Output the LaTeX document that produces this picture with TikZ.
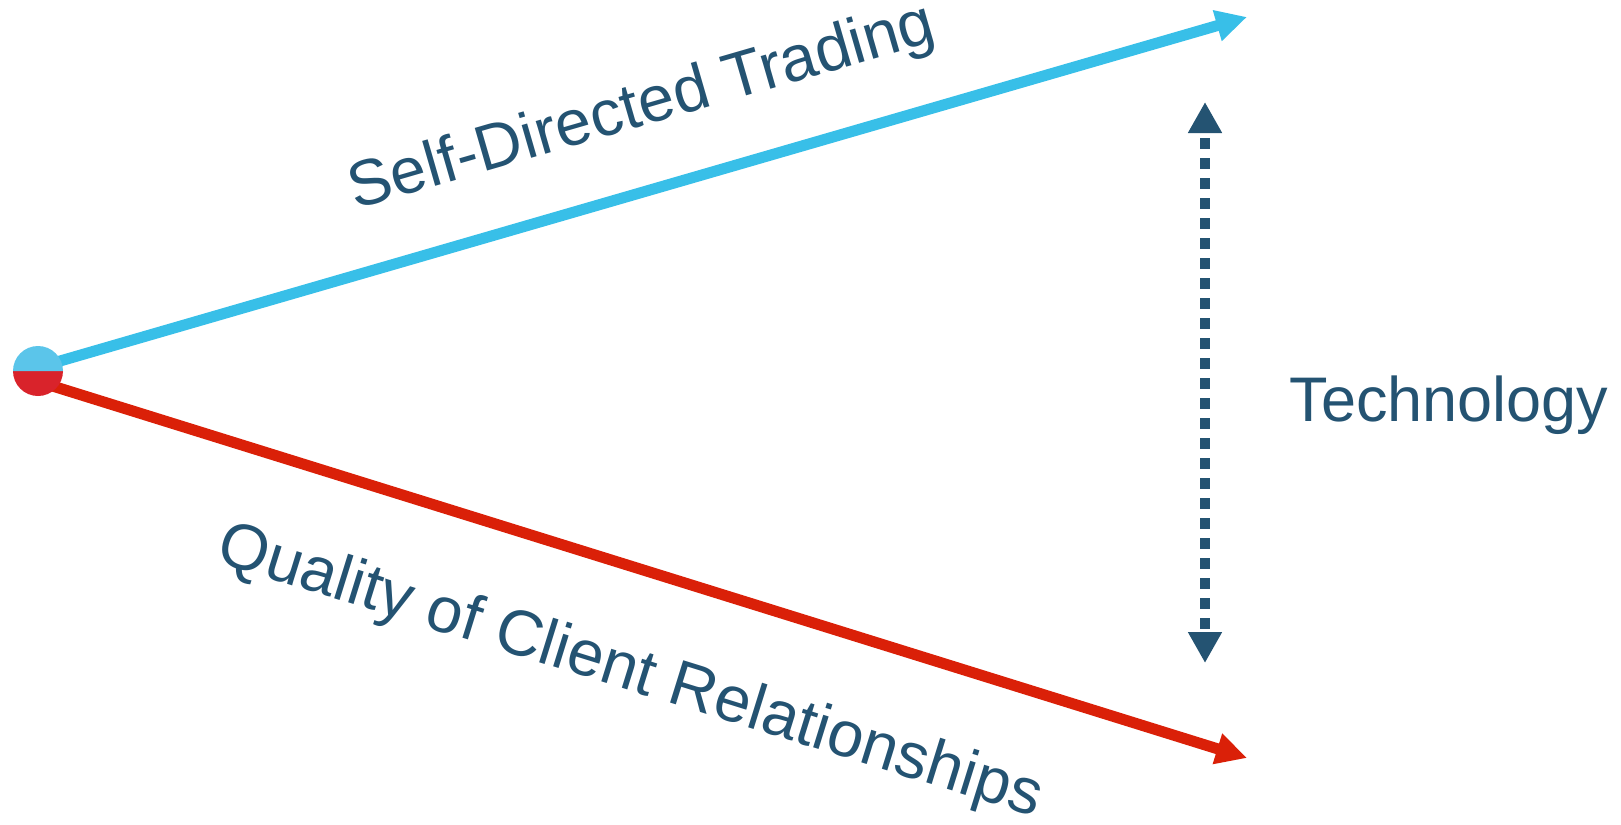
\documentclass[tikz,border=0pt]{standalone}
\usepackage{fontspec}
\setmainfont{Liberation Sans}
\usetikzlibrary{arrows.meta,calc}
\definecolor{skyline}{HTML}{38BFE8}
\definecolor{skydot}{HTML}{5BC5EA}
\definecolor{redline}{HTML}{DA2008}
\definecolor{reddot}{HTML}{D9232B}
\definecolor{navy}{HTML}{245372}
\tikzset{
  label/.style={text=navy, font=\fontsize{63}{75}\selectfont, inner sep=0pt},
  slanted label/.style={label, font=\fontsize{64.5}{76}\selectfont},
  trend/.style={line width=11pt, -{Triangle[length=31pt,width=30pt]}},
  techdash/.style={navy, line width=10pt, dash pattern=on 10.5pt off 9.5pt, dash phase=15pt,
    shorten <=31pt, shorten >=31pt},
  techhead/.style={navy, line width=10pt, -{Triangle[length=31pt,width=32pt]}}
}
\begin{document}
\begin{tikzpicture}[x=1pt,y=-1pt]
\useasboundingbox (0,0) rectangle (1621,824);
% start point and arrow ends
\coordinate (start) at (38,371);
\coordinate (upStart) at (38,367.4);
\coordinate (loStart) at (38,381.5);
\coordinate (upEnd) at (1247,17);
\coordinate (loEnd) at (1247,758);
\coordinate (techTop) at (1205,102);
\coordinate (techBot) at (1205,663);
% the two diverging arrows
\draw[trend, skyline] (upStart) -- (upEnd);
\draw[trend, redline] (loStart) -- (loEnd);
% two-coloured starting dot (y axis points down here)
\fill[reddot] ($(start)+(25,0)$) arc[start angle=0, end angle=180, radius=25] -- cycle;
\fill[skydot] ($(start)+(-25,0)$) arc[start angle=180, end angle=360, radius=25] -- cycle;
\node[circle, minimum size=50pt, inner sep=0pt] (dot) at (start) {};
% technology gap: dotted stem and two heads
\draw[techdash] (techTop) -- (techBot);
\draw[techhead] ($(techTop)+(0,31)$) -- (techTop);
\draw[techhead] ($(techBot)+(0,-31)$) -- (techBot);
% labels
\node[slanted label, anchor=base, rotate=16.16] (self) at (647,125) {Self-Directed Trading};
\node[slanted label, anchor=base, rotate=-17.3] (quality) at (625,689) {Quality of Client Relationships};
\node[label, anchor=base] (tech) at (1449,421) {Technology};
\end{tikzpicture}
\end{document}
